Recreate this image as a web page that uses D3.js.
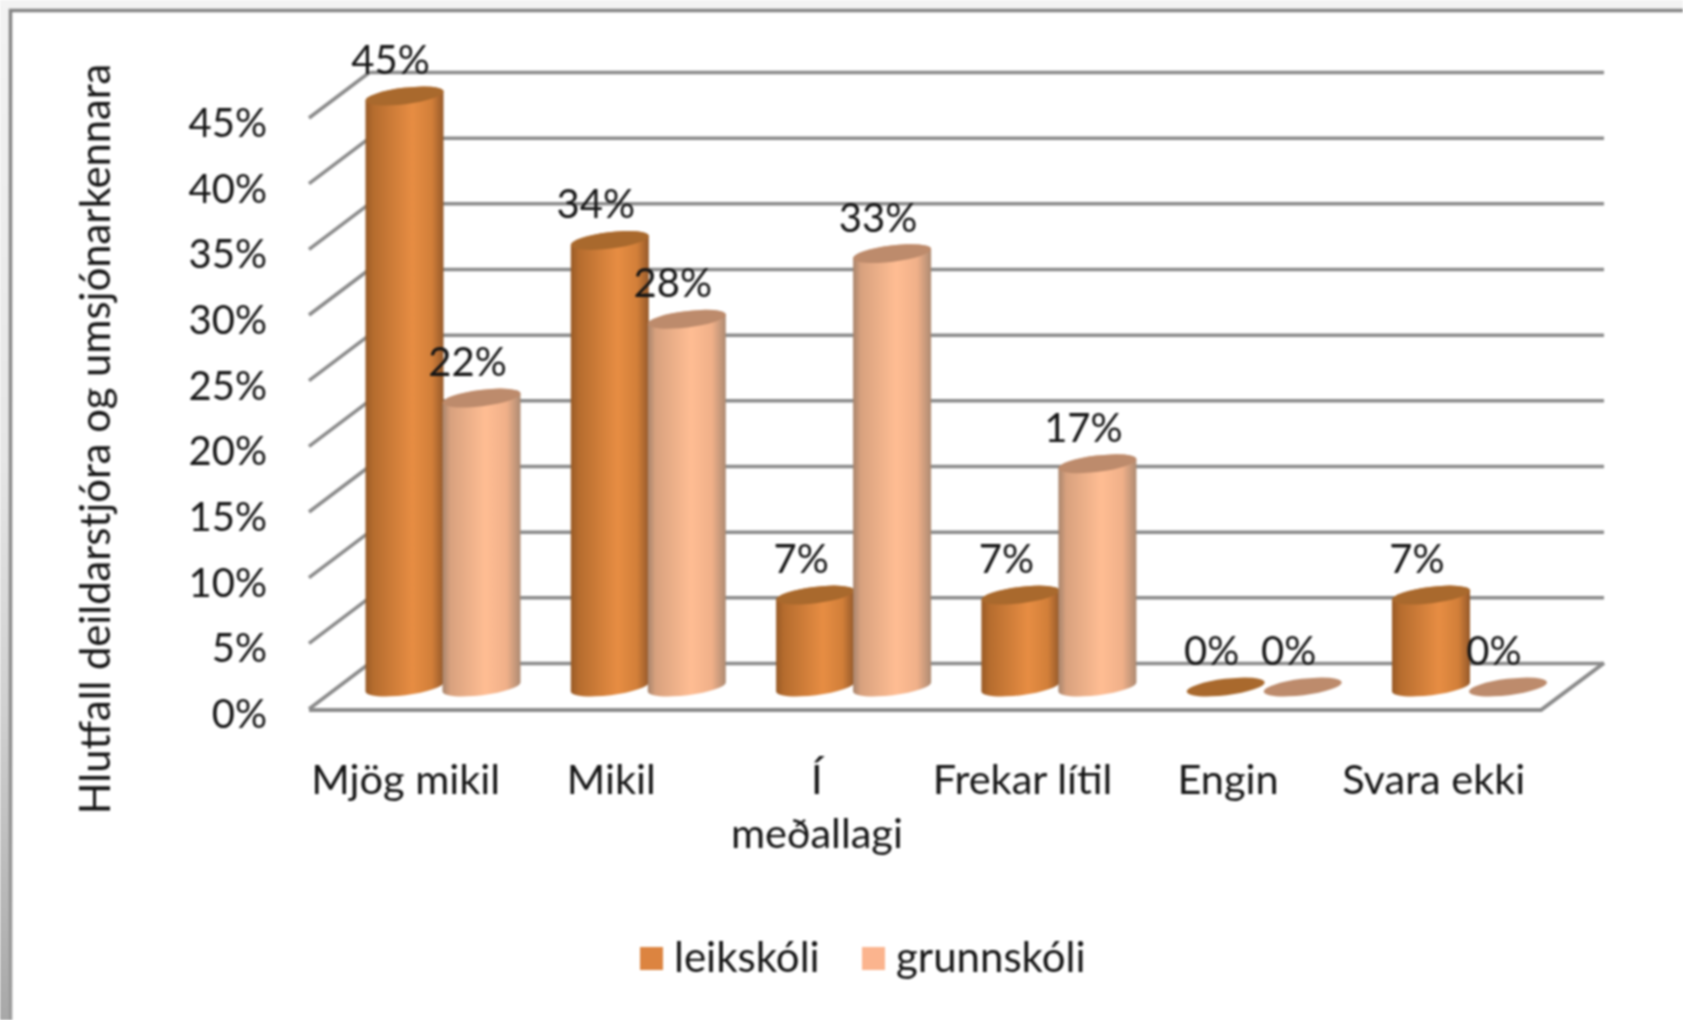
<!DOCTYPE html>
<html><head><meta charset="utf-8">
<script src="https://cdn.jsdelivr.net/npm/d3@7"></script>
<style>html,body{margin:0;padding:0;background:#fff;overflow:hidden}svg{display:block;filter:blur(.8px)}text{font-family:Lato,"Open Sans",sans-serif;fill:#151515}</style>
</head><body><svg id="c" width="1683" height="1020"></svg>
<script>
const categories=["Mjög mikil","Mikil","Í meðallagi","Frekar lítil","Engin","Svara ekki"];
const leikskoli=[45,34,7,7,0,7];
const grunnskoli=[22,28,33,17,0,0];
const seriesNames=["leikskóli","grunnskóli"];
const tickValues=[0,5,10,15,20,25,30,35,40,45];
const axisTitle="Hlutfall deildarstjóra og umsjónarkennara";

const svg=d3.select("#c");
const defs=svg.append("defs");
function grad(id,stops){const g=defs.append("linearGradient").attr("id",id);
 stops.forEach(([o,c])=>g.append("stop").attr("offset",o).attr("stop-color",c));}
grad("gL",[[0,"#985a26"],[.1,"#b56c2e"],[.6,"#e78d43"],[.85,"#d27f39"],[1,"#95592a"]]);
grad("gG",[[0,"#a8846c"],[.1,"#d8a17e"],[.55,"#ffbd93"],[.82,"#f0b089"],[1,"#ad8a72"]]);
const lg=defs.append("linearGradient").attr("id","gB").attr("x1",0).attr("x2",0).attr("y1",0).attr("y2",1);
lg.append("stop").attr("offset",0).attr("stop-color","#858585");
lg.append("stop").attr("offset",.7).attr("stop-color","#8c8c8c");
lg.append("stop").attr("offset",1).attr("stop-color","#9c9c9c");
const ls=defs.append("linearGradient").attr("id","gS").attr("x1",0).attr("x2",0).attr("y1",0).attr("y2",1);
ls.append("stop").attr("offset",0).attr("stop-color","#f3f3f3");
ls.append("stop").attr("offset",.45).attr("stop-color","#e6e6e6");
ls.append("stop").attr("offset",.7).attr("stop-color","#d0d0d0");
ls.append("stop").attr("offset",1).attr("stop-color","#a8a8a8");

// window frame
svg.append("rect").attr("width",1683).attr("height",1020).attr("fill","#f3f3f3");
svg.append("rect").attr("width",9).attr("height",1020).attr("fill","url(#gS)");
svg.append("rect").attr("x",10.5).attr("y",10.5).attr("width",1690).attr("height",1030).attr("fill","#fff").attr("stroke","url(#gB)").attr("stroke-width",3.5);

const yBack=d3.scaleLinear().domain([0,45]).range([663,72]);
const yFront=d3.scaleLinear().domain([0,45]).range([709,118]);
const yBar=d3.scaleLinear().domain([0,45]).range([687,96]);
const x0=d3.scaleBand().domain(categories).range([366,366+6*205.3]).paddingInner(0).paddingOuter(0);
const x1=d3.scaleBand().domain(seriesNames).range([0,154]);
const rx=39.3,ry=8.2,rot=-7,sn=Math.sin(rot*Math.PI/180)*rx,cs=Math.cos(rot*Math.PI/180)*rx;
const rxPath=Math.hypot(sn,cs);
const left=309,backLeft=370,backRight=1604,frontRight=1541;
const grid="#8a8a8a";

// gridlines (through the axis generator)
const gAxis=svg.append("g").attr("transform",`translate(${backRight},0)`)
 .call(d3.axisLeft(yBack).tickValues(tickValues).tickSize(backRight-backLeft).tickFormat(""));
gAxis.select(".domain").remove();
gAxis.selectAll("line").attr("stroke",grid).attr("stroke-width",3.5);
// side wall obliques
svg.append("g").selectAll("line").data(tickValues).join("line")
 .attr("x1",left).attr("x2",backLeft).attr("y1",d=>yFront(d)).attr("y2",d=>yBack(d))
 .attr("stroke",grid).attr("stroke-width",3.5);
// floor
svg.append("path").attr("fill","none").attr("stroke",grid).attr("stroke-width",4)
 .attr("d",`M${left},${yFront(0)+1}L${frontRight},${yFront(0)+1}L${backRight},${yBack(0)}`);

function body(cx,v){const t=yBar(v),b=yBar(0);
 return `M${cx-cs},${t-sn}A${rxPath},${ry} ${rot} 0 1 ${cx+cs},${t+sn}L${cx+cs},${b+sn}A${rxPath},${ry} ${rot} 0 1 ${cx-cs},${b-sn}Z`;}
const series=[{name:seriesNames[0],values:leikskoli,fill:"url(#gL)",top:"#a9692d"},
 {name:seriesNames[1],values:grunnskoli,fill:"url(#gG)",top:"#bd8b6c"}];
const cx=(c,s)=>x0(c)+x1(s)+x1.bandwidth()/2;
series.forEach(s=>{
 const g=svg.append("g");
 const rows=categories.map((c,i)=>({c,v:s.values[i]}));
 g.selectAll("path.b").data(rows.filter(d=>d.v>0)).join("path").attr("class","b")
  .attr("d",d=>body(cx(d.c,s.name),d.v)).attr("fill",s.fill);
 g.selectAll("ellipse").data(rows).join("ellipse")
  .attr("rx",rxPath).attr("ry",ry).attr("fill",s.top)
  .attr("transform",d=>`translate(${cx(d.c,s.name)},${yBar(d.v)}) rotate(${rot})`);
});
// data labels
series.forEach(s=>{
 svg.append("g").selectAll("text").data(categories.map((c,i)=>({c,v:s.values[i]}))).join("text")
  .attr("x",d=>cx(d.c,s.name)-14).attr("y",d=>yBar(d.v)-36.5).attr("dy",".36em")
  .attr("text-anchor","middle").attr("font-size",40).text(d=>d.v+"%");
});
// y axis labels
const yA=svg.append("g").attr("transform","translate(267,0)")
 .call(d3.axisLeft(yFront).tickValues(tickValues).tickSize(0).tickPadding(0).tickFormat(d=>d+"%"));
yA.select(".domain").remove();
yA.selectAll("text").attr("font-size",40).attr("font-family",null).attr("dy",".36em").attr("y",4);
// category labels
const labelX=d3.scalePoint().domain(categories).range([405.7,405.7+5*205.6]);
const lines={"Í meðallagi":["Í","meðallagi"]};
const cg=svg.append("g").selectAll("text").data(categories).join("text")
 .attr("text-anchor","middle").attr("font-size",41.5)
 .attr("transform",d=>`translate(${labelX(d)},779)`);
cg.selectAll("tspan").data(d=>lines[d]||[d]).join("tspan")
 .attr("x",0).attr("y",(d,i)=>i*54).attr("dy",".36em").text(d=>d);
// axis title
svg.append("text").attr("transform","translate(95,439) rotate(-90)").attr("text-anchor","middle")
 .attr("dy",".36em").attr("font-size",41.7).text(axisTitle);
// legend
const lx=d3.scaleOrdinal().domain(seriesNames).range([640,862]);
const lc=d3.scaleOrdinal().domain(seriesNames).range(["#dc8440","#fbb48e"]);
const lgd=svg.append("g").selectAll("g").data(seriesNames).join("g")
 .attr("transform",d=>`translate(${lx(d)},947)`);
lgd.append("rect").attr("width",23).attr("height",23).attr("fill",d=>lc(d));
lgd.append("text").attr("x",34).attr("y",10).attr("dy",".36em").attr("font-size",42).text(d=>d);
</script></body></html>
